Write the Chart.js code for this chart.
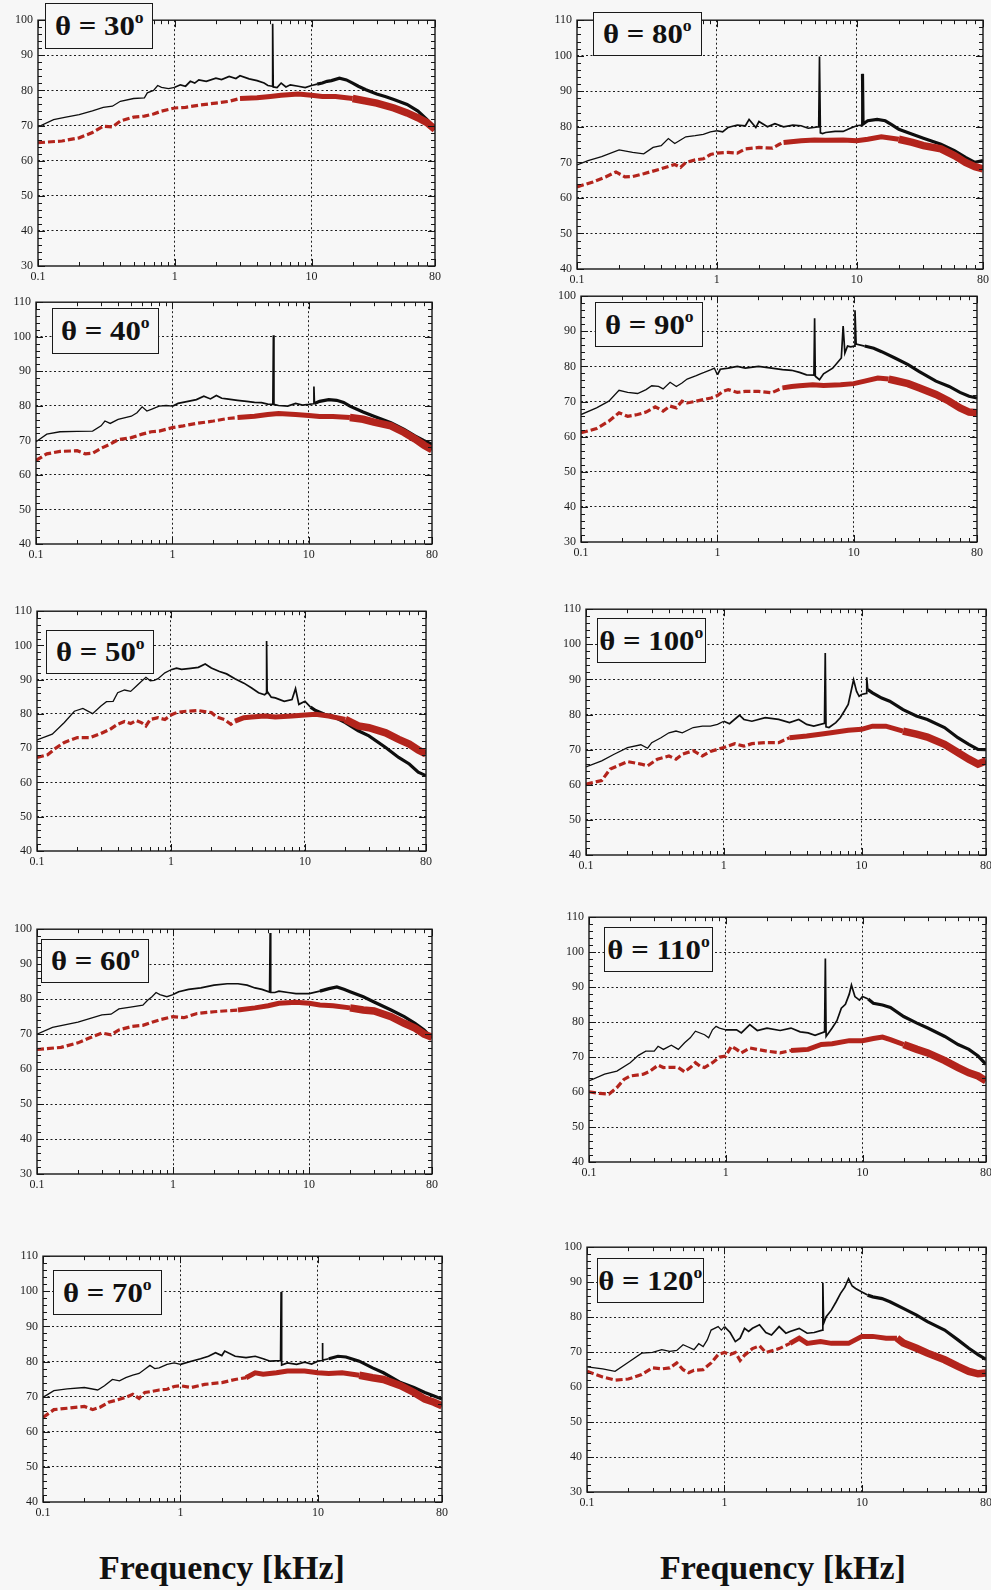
<!DOCTYPE html>
<html><head><meta charset="utf-8">
<script src="https://cdn.jsdelivr.net/npm/chart.js@4.4.1/dist/chart.umd.min.js"></script>
<style>
html,body{margin:0;padding:0;background:#f7f7f7;width:991px;height:1590px;overflow:hidden;position:relative;}
canvas{position:absolute;}
.lbl{position:absolute;border:1.6px solid #1a1a1a;background:#f7f7f7;font-family:"Liberation Serif","Times New Roman",serif;font-weight:bold;font-size:28px;color:#111;display:flex;align-items:center;justify-content:center;box-sizing:border-box;white-space:nowrap;z-index:5;}
.lbl span{display:inline-block;transform:scaleX(1.1);}
.lbl sup{font-size:16px;vertical-align:0;position:relative;top:-12px;}
.xt{position:absolute;font-family:"Liberation Serif","Times New Roman",serif;font-weight:bold;font-size:34px;color:#111;white-space:nowrap;transform:translateX(-50%);}
</style>
</head><body>
<script>
// ---------- data ----------
const angles = [30, 40, 50, 60, 70, 80, 90, 100, 110, 120];
const yMins = [30, 40, 40, 30, 40, 40, 30, 40, 40, 30];
const yMaxs = [100, 110, 110, 100, 110, 110, 100, 110, 110, 100];
const xTickVals = [0.1,0.2,0.3,0.4,0.5,0.6,0.7,0.8,0.9,1,2,3,4,5,6,7,8,9,10,20,30,40,50,60,70,80];
const xTickLabels = [0.1, 1, 10, 80];
const axisTitle = "Frequency [kHz]";

const black30 = [[0.1,69.6],[0.13,71.7],[0.16,72.4],[0.2,73.1],[0.25,74.2],[0.3,75.2],[0.35,75.5],[0.4,76.9],[0.5,77.7],[0.6,77.9],[0.63,79.3],[0.7,80],[0.75,81.4],[0.8,80.9],[0.9,80.5],[1.0,80.9],[1.1,81.6],[1.2,81.2],[1.3,82.6],[1.4,82.1],[1.5,83],[1.7,82.6],[2,83.5],[2.2,83.1],[2.5,84],[2.8,83.4],[3,84.2],[3.5,83.3],[4,82.8],[4.5,82.1],[4.8,81.4],[5.15,81.2],[5.2,99],[5.25,81],[5.6,80.8],[6,82.1],[6.5,81],[7,81.6],[8,81.2],[9,80.8],[10,81.4],[11,81.8],[12,82.1],[13,82.6],[14,82.8],[16,83.5],[18,83],[20,82.1],[22,81.2],[25,80.2],[30,79],[35,78.2],[40,77.4],[50,76],[60,74.1],[70,71.7],[80,68.9]];
const red30 = [[0.1,65.1],[0.15,65.6],[0.2,66.5],[0.25,68],[0.3,69.8],[0.35,69.6],[0.4,71.3],[0.5,72.4],[0.6,72.7],[0.7,73.3],[0.8,74.1],[1,75],[1.2,75.2],[1.5,75.8],[2,76.4],[2.5,76.9],[3,77.7],[4,77.9],[5,78.3],[6,78.6],[8,79],[10,78.6],[12,78.3],[15,78.3],[20,77.7],[30,76.4],[40,75],[50,73.6],[60,72.2],[70,70.8],[80,68.9]];

const black40 = [[0.1,69.6],[0.12,71.8],[0.15,72.5],[0.2,72.6],[0.26,72.7],[0.3,74.2],[0.32,75.6],[0.35,74.9],[0.4,76.1],[0.5,77],[0.55,78],[0.6,79.7],[0.65,78.5],[0.7,79],[0.8,79.9],[0.9,80.1],[1,79.9],[1.1,80.7],[1.3,81.3],[1.5,81.8],[1.7,82.8],[1.9,82],[2.1,83],[2.3,82.2],[2.5,82],[3,81.6],[3.5,81.3],[4,81],[4.5,80.9],[5,80.5],[5.45,80.4],[5.5,100.4],[5.55,80.4],[6,80.1],[7,79.9],[8,80.7],[9,80.2],[10,80.4],[10.8,80.6],[10.9,85.6],[11,80.7],[12,81.3],[14,81.8],[16,81.6],[18,81],[20,79.9],[25,78.2],[30,77],[40,75.1],[50,73.2],[60,71.3],[70,69.9],[80,68.9]];
const red40 = [[0.1,64.2],[0.12,66.1],[0.15,66.8],[0.2,67],[0.23,66.1],[0.26,66.3],[0.3,67.7],[0.35,68.9],[0.4,70.2],[0.5,70.8],[0.6,71.8],[0.7,72.5],[0.8,72.7],[1,73.7],[1.2,74.2],[1.5,74.9],[2,75.6],[2.5,76.3],[3,76.6],[4,77],[5,77.5],[6,77.8],[8,77.5],[10,77.2],[12,76.9],[15,76.9],[20,76.6],[25,76.1],[30,75.3],[40,74.2],[50,72.3],[60,70.4],[70,68.6],[80,67.3]];

const black50 = [[0.1,72.4],[0.13,74.1],[0.16,77.5],[0.19,80.8],[0.22,81.6],[0.26,80.1],[0.3,82.3],[0.33,83.6],[0.37,83.7],[0.4,86.2],[0.45,87],[0.5,86.6],[0.55,88.1],[0.6,89.5],[0.65,90.7],[0.7,89.7],[0.75,89.8],[0.8,90.3],[0.9,92],[1,92.9],[1.1,93.4],[1.2,93],[1.4,93.3],[1.6,93.6],[1.8,94.6],[2,93.4],[2.3,92.4],[2.6,91.7],[3,90.3],[3.5,89],[4,87.6],[4.5,86.2],[5,85.6],[5.12,86],[5.17,101.3],[5.22,86.6],[5.6,84.9],[6,84.7],[7,83.7],[8,84.2],[8.5,87.4],[9,82.8],[10,83.7],[11,82],[12,81],[14,79.9],[16,79.4],[20,77.5],[25,75.1],[30,73.6],[40,70.2],[50,67.3],[60,65.4],[70,63],[80,62]];
const red50 = [[0.1,67.3],[0.12,68.1],[0.14,70.2],[0.16,71.7],[0.2,73.1],[0.25,73.1],[0.3,74.3],[0.35,75.5],[0.4,77],[0.45,77.8],[0.5,77.2],[0.55,78.1],[0.6,77.5],[0.65,76.5],[0.7,78.4],[0.8,78.9],[0.9,78.4],[1,79.7],[1.1,80.4],[1.3,80.8],[1.6,81],[2,80.4],[2.2,79.1],[2.5,78.4],[2.8,77],[3,77.9],[3.5,78.9],[4,79.1],[5,79.4],[6,79.1],[8,79.4],[10,79.7],[12,79.9],[15,79.4],[20,78.4],[25,76.5],[30,76],[40,74.5],[50,72.6],[60,71.2],[70,69.5],[80,68.3]];

const black60 = [[0.1,70],[0.13,71.9],[0.2,73.4],[0.3,75.5],[0.35,75.7],[0.4,77.2],[0.5,77.8],[0.6,78.3],[0.65,79.7],[0.7,80.7],[0.75,81.9],[0.8,81.3],[0.9,80.7],[1,81.3],[1.1,82.1],[1.3,82.8],[1.6,83.2],[2,84],[2.5,84.4],[3,84.4],[3.5,84],[4,83.2],[4.5,82.8],[5.12,82],[5.17,98.9],[5.22,81.9],[5.6,81.9],[6,82.3],[7,81.9],[8,81.6],[10,81.6],[12,82.3],[14,83],[16,83.5],[18,82.8],[20,82.1],[25,80.7],[30,79.2],[40,76.9],[50,75],[60,73.1],[70,71.2],[80,68.9]];
const red60 = [[0.1,65.6],[0.15,66.2],[0.2,67.5],[0.25,69.1],[0.3,70.3],[0.35,69.8],[0.4,71.2],[0.5,72.2],[0.6,72.5],[0.7,73.4],[0.8,74.1],[1,75],[1.2,74.7],[1.5,75.9],[2,76.4],[3,76.9],[4,77.5],[5,78.1],[6,78.8],[8,79.1],[10,78.8],[12,78.3],[15,78.1],[20,77.5],[25,76.9],[30,76.6],[40,75],[50,73.1],[60,71.7],[70,70],[80,69.1]];

const black70 = [[0.1,69.8],[0.12,71.7],[0.15,72.2],[0.2,72.6],[0.25,71.9],[0.28,73.1],[0.32,74.9],[0.36,74.5],[0.4,75.4],[0.45,76.1],[0.5,76.6],[0.55,77.8],[0.6,78.9],[0.65,78],[0.7,78.2],[0.8,79.2],[0.9,79.6],[1,79.2],[1.2,80.1],[1.4,80.8],[1.6,81.5],[1.8,82.5],[2,81.7],[2.1,83],[2.5,81.5],[3,81.1],[3.5,81.5],[4,80.8],[4.5,80.1],[5.35,80.3],[5.4,99.8],[5.45,79],[6,79.6],[7,79.2],[8,79.8],[9,79.3],[10,80.1],[10.75,80.3],[10.8,85.3],[10.85,80.4],[12,80.8],[14,81.5],[16,81.3],[20,80.1],[25,78.2],[30,76.8],[40,74],[50,72.6],[60,71.2],[70,70.2],[80,69.3]];
const red70 = [[0.1,64.1],[0.12,66.3],[0.15,66.7],[0.2,67.2],[0.23,66.3],[0.26,67],[0.3,68.4],[0.35,69.1],[0.4,69.8],[0.45,70.7],[0.5,69.5],[0.55,71.2],[0.6,71.4],[0.7,71.9],[0.8,72.1],[0.9,72.9],[1,73.1],[1.2,72.6],[1.5,73.5],[2,74],[2.5,74.9],[3,75.4],[3.5,76.8],[4,76.4],[5,76.8],[6,77.3],[8,77.3],[10,76.8],[12,76.6],[15,76.8],[20,76.1],[25,75.4],[30,74.9],[40,73.1],[50,71.2],[60,69.3],[70,68.4],[80,67.4]];

const black80 = [[0.1,69.3],[0.12,70.5],[0.15,71.6],[0.2,73.5],[0.25,72.8],[0.3,72.4],[0.35,74.2],[0.4,74.7],[0.45,76.7],[0.5,75.3],[0.55,76.3],[0.6,77.2],[0.7,77.5],[0.8,77.9],[0.9,78.6],[1,78.9],[1.1,78.6],[1.2,79.8],[1.4,80.5],[1.6,80.3],[1.7,82.1],[1.9,79.8],[2,81.5],[2.3,80],[2.6,80.9],[3,80],[3.5,80.5],[4,80.3],[4.5,79.6],[5.35,80],[5.42,99.8],[5.5,78.3],[5.7,78.1],[6,78.4],[7,78.7],[8,78.7],[9,79.6],[10,80.3],[10.9,80.5],[11,94.9],[11.1,80.8],[12,81.7],[14,82.1],[16,81.7],[18,80.5],[20,79.3],[25,77.9],[30,76.8],[40,75.1],[50,73.3],[60,71.4],[70,70],[80,70.5]];
const red80 = [[0.1,63.1],[0.13,64.5],[0.16,65.9],[0.19,67.3],[0.22,65.9],[0.25,66],[0.3,66.8],[0.4,68.2],[0.5,69.4],[0.55,68.6],[0.6,70],[0.7,70.7],[0.8,71],[0.9,72.2],[1,72.6],[1.2,72.8],[1.4,72.6],[1.6,73.8],[2,74.2],[2.5,74],[2.8,75.1],[3,75.6],[4,76.1],[5,76.3],[6,76.2],[8,76.3],[10,76.1],[12,76.5],[15,77.2],[20,76.5],[25,75.6],[30,74.7],[40,73.8],[50,71.9],[60,70],[70,68.8],[80,68.2]];

const black90 = [[0.1,66.3],[0.13,68.2],[0.16,70.1],[0.19,73.2],[0.22,72.6],[0.26,72.3],[0.3,73.4],[0.33,74.5],[0.37,74.3],[0.4,73.6],[0.45,75.5],[0.5,74.3],[0.55,75.3],[0.6,76.4],[0.7,77.4],[0.75,77.9],[0.8,78.3],[0.9,79.1],[0.95,79.5],[1,77.6],[1.05,79.2],[1.2,79.5],[1.4,80],[1.6,79.5],[2,80],[2.5,79.5],[3,79.1],[3.5,78.9],[4,78.3],[4.5,77.6],[5.1,77.5],[5.16,93.7],[5.22,77.2],[5.6,76.2],[6,77.9],[7,79.5],[8.1,82.4],[8.35,91.5],[8.6,83.8],[9,85.8],[9.5,85.6],[10.05,85.8],[10.2,96],[10.4,86.4],[12,85.8],[14,85.2],[16,84.2],[20,82.4],[25,80.5],[30,78.6],[40,75.8],[50,74.3],[60,72.6],[70,71.5],[80,71]];
const red90 = [[0.1,61.1],[0.13,62.3],[0.16,64.4],[0.19,66.8],[0.22,65.8],[0.26,66.3],[0.3,67],[0.35,68.5],[0.4,67.3],[0.45,68.7],[0.5,68.2],[0.55,70.1],[0.6,69.6],[0.7,70.1],[0.8,70.6],[0.9,71],[1,71.7],[1.1,72.9],[1.2,73.4],[1.4,72.6],[1.6,72.9],[2,72.9],[2.5,72.5],[3,73.9],[3.5,74.3],[4,74.5],[5,74.8],[6,74.6],[8,74.8],[10,75.1],[12,75.8],[15,76.7],[18,76.4],[20,76],[25,75.1],[30,73.9],[40,72],[50,70.1],[60,68.2],[70,67],[80,66.8]];

const black100 = [[0.1,65.1],[0.13,66.8],[0.16,68.7],[0.2,70.6],[0.25,71.4],[0.28,70.4],[0.3,72],[0.35,73.4],[0.4,74.8],[0.45,75.3],[0.5,74.8],[0.6,76.3],[0.7,76.7],[0.8,76.7],[0.9,77.2],[1,78.1],[1.1,77.4],[1.3,79.8],[1.4,78.6],[1.6,78.1],[2,79.1],[2.5,78.6],[3,77.7],[3.5,78.6],[4,77.2],[4.5,76.7],[5.38,77.5],[5.45,97.5],[5.52,76.5],[5.8,76.3],[6.5,77.7],[7,79.1],[7.5,81],[8,82.9],[8.75,89.9],[9.2,86.6],[9.6,85.2],[10,85.7],[10.8,86],[10.9,90.6],[11.1,87.1],[12,86.2],[14,84.7],[16,83.8],[20,81.4],[25,79.6],[30,78.6],[40,76.3],[50,73.4],[60,71.5],[70,70.1],[80,70]];
const red100 = [[0.1,60.2],[0.13,61.2],[0.15,64.5],[0.2,66.6],[0.25,65.9],[0.28,65.4],[0.33,67.3],[0.4,68.2],[0.45,67.3],[0.5,68.7],[0.6,69.7],[0.7,68.2],[0.8,69.5],[1,70.6],[1.2,71.7],[1.4,71],[1.6,71.7],[2,72],[2.5,72],[3,73.4],[4,73.9],[5,74.4],[6,74.8],[8,75.5],[10,75.8],[12,76.7],[15,76.7],[20,75.3],[25,74.4],[30,73.6],[40,71.5],[50,69.2],[60,67.3],[70,65.9],[80,66.8]];

const black110 = [[0.1,63.2],[0.13,65.1],[0.16,66],[0.2,68.4],[0.23,70.5],[0.26,71.7],[0.3,71.7],[0.32,73.1],[0.35,72.2],[0.4,73.4],[0.45,72.2],[0.5,74.1],[0.55,75.5],[0.6,77.4],[0.7,76.4],[0.75,75.5],[0.8,77.8],[0.85,78.8],[0.9,78.3],[1,77.8],[1.2,77.8],[1.3,76.9],[1.5,79.3],[1.7,77.6],[2,78.3],[2.5,77.6],[3,78.3],[3.5,77.2],[4,76.9],[4.5,76.2],[5.28,77.2],[5.35,98.2],[5.42,75.9],[6,78.3],[6.5,80.4],[7,84],[7.5,85.1],[8,88],[8.3,90.6],[8.8,87.3],[9.5,86.3],[10,87.3],[11,86.6],[12,85.4],[14,84.9],[16,84.2],[20,81.6],[25,79.7],[30,78.3],[40,75.9],[50,73.6],[60,72.2],[70,70.3],[80,67.9]];
const red110 = [[0.1,60.1],[0.12,59.6],[0.14,59.4],[0.16,61.3],[0.18,63.6],[0.2,64.6],[0.25,65.1],[0.28,66],[0.32,67.7],[0.35,67],[0.4,67.1],[0.45,67],[0.5,65.8],[0.55,67],[0.6,68.4],[0.65,67.4],[0.7,67],[0.8,68.4],[0.9,70],[1,70.3],[1.1,73.1],[1.2,72.2],[1.3,71.2],[1.5,72.6],[2,71.7],[2.5,71.2],[3,71.9],[4,72.2],[5,73.6],[6,73.8],[8,74.7],[10,74.7],[12,75.3],[14,75.7],[16,75],[20,73.6],[25,72.2],[30,71.2],[40,69],[50,67],[60,65.5],[70,64.6],[80,63.2]];

const black120 = [[0.1,65.8],[0.13,65.2],[0.16,64.5],[0.2,67.1],[0.25,69.7],[0.3,69.9],[0.35,70.7],[0.4,70.2],[0.45,70.5],[0.5,72.1],[0.55,71.4],[0.6,70.7],[0.65,72.4],[0.7,71.6],[0.75,73.5],[0.8,76.3],[0.9,77.3],[0.95,76.3],[1,77.3],[1.1,75.6],[1.2,73],[1.3,74],[1.4,76.8],[1.5,75.9],[1.6,76.8],[1.8,77.8],[2,75.6],[2.2,74.9],[2.5,77.3],[2.8,75.4],[3,75.9],[3.5,76.8],[4,75.4],[4.5,75.6],[5.15,76.3],[5.2,89.8],[5.27,78.2],[5.5,80.1],[6,82],[6.5,84.4],[7,86.8],[7.5,88.5],[8,91],[8.5,88.9],[9,88.2],[10,87.2],[11,86.3],[12,85.8],[14,85.3],[16,84.4],[20,82.5],[25,80.6],[30,78.7],[40,76.3],[50,73.5],[60,71.1],[70,69.3],[80,67.9]];
const red120 = [[0.1,64.5],[0.13,62.9],[0.16,62],[0.2,62.3],[0.25,63.6],[0.3,65.5],[0.35,65.2],[0.4,65.5],[0.45,66.9],[0.5,65],[0.55,64.1],[0.6,64.8],[0.7,65],[0.8,66.9],[0.9,69.3],[1,69.9],[1.1,69.3],[1.2,69.9],[1.3,67.6],[1.4,69.1],[1.6,71],[1.8,71.8],[2,69.9],[2.5,71],[3,72.5],[3.5,74],[4,72.5],[5,73],[6,72.5],[8,72.5],[10,74.5],[12,74.5],[15,74],[18,74],[20,72.6],[25,71.1],[30,69.7],[40,67.8],[50,65.9],[60,64.5],[70,63.8],[80,64]];

const blacks = [black30, black40, black50, black60, black70, black80, black90, black100, black110, black120];
const reds = [red30, red40, red50, red60, red70, red80, red90, red100, red110, red120];

// ---------- layout (page pixels of each plot area, and of each label box) ----------
const layout = [
  {L:38, T:18, R:435, B:266, box:[45,3,153,49]},
  {L:36, T:300, R:432, B:544, box:[52,308,159,354]},
  {L:37, T:609, R:426, B:851, box:[46,630,154,674]},
  {L:37, T:927, R:432, B:1174, box:[41,939,149,983]},
  {L:43, T:1254, R:442, B:1502, box:[53,1270,162,1315]},
  {L:577, T:18, R:983, B:269, box:[593,12,702,56]},
  {L:581, T:294, R:977, B:542, box:[595,302,703,347]},
  {L:586, T:607, R:986, B:855, box:[597,618,706,663]},
  {L:589, T:915, R:986, B:1162, box:[604,927,713,972]},
  {L:587, T:1245, R:986, B:1492, box:[597,1258,704,1303]}
];
const titlePos = [[222,1549],[783,1549]];

const RED = '#b3241c';
const BLACK = '#0e0e0e';
const GRID = '#1e1e1e';
const PADL = 40, PADT = 10, PADR = 14, PADB = 24;

const framePlugin = {
  id: 'frame',
  afterDraw(chart) {
    const {ctx, chartArea: a, scales: {x, y}} = chart;
    ctx.save();
    ctx.strokeStyle = '#161616';
    ctx.lineWidth = 1.4;
    ctx.strokeRect(a.left, a.top, a.right - a.left, a.bottom - a.top);
    ctx.lineWidth = 1;
    ctx.beginPath();
    xTickVals.forEach(v => {
      const px = Math.round(x.getPixelForValue(v)) + 0.5;
      const len = xTickLabels.includes(v) ? 7 : 4;
      ctx.moveTo(px, a.bottom); ctx.lineTo(px, a.bottom - len);
      ctx.moveTo(px, a.top); ctx.lineTo(px, a.top + len);
    });
    for (let v = y.min; v <= y.max + 0.001; v += 2) {
      const py = Math.round(y.getPixelForValue(v)) + 0.5;
      const len = (Math.round(v) % 10 === 0) ? 7 : 4;
      ctx.moveTo(a.left, py); ctx.lineTo(a.left + len, py);
      ctx.moveTo(a.right, py); ctx.lineTo(a.right - len, py);
    }
    ctx.stroke();
    ctx.restore();
  }
};

function toXY(arr) { return arr.map(p => ({x: p[0], y: p[1]})); }

angles.forEach((ang, i) => {
  const g = layout[i];
  const W = g.R - g.L + PADL + PADR, H = g.B - g.T + PADT + PADB;
  const cv = document.createElement('canvas');
  cv.width = W; cv.height = H;
  cv.style.left = (g.L - PADL) + 'px'; cv.style.top = (g.T - PADT) + 'px';
  cv.style.width = W + 'px'; cv.style.height = H + 'px';
  document.body.appendChild(cv);
  const yMin = yMins[i], yMax = yMaxs[i];
  new Chart(cv, {
    type: 'line',
    data: {
      datasets: [
        {
          label: 'red', data: toXY(reds[i]), borderColor: RED, order: 0,
          borderWidth: 3.2, pointRadius: 0, tension: 0, borderCapStyle: 'butt',
          segment: {
            borderDash: c => c.p0.parsed.x < 3 ? [7, 3] : [],
            borderWidth: c => c.p0.parsed.x < 3 ? 3.2 : (c.p0.parsed.x < 18 ? 5 : 7.5)
          }
        },
        {
          label: 'black', data: toXY(blacks[i]), borderColor: BLACK, order: 1,
          borderWidth: 1.2, pointRadius: 0, tension: 0, borderJoinStyle: 'miter',
          segment: {
            borderWidth: c => c.p0.parsed.x < 1 ? 1.3 : (c.p0.parsed.x < 11 ? 1.7 : 3.2)
          }
        }
      ]
    },
    options: {
      responsive: false, animation: false, events: [],
      layout: {padding: {left: 0, top: PADT, right: PADR, bottom: 0}},
      plugins: {legend: {display: false}, tooltip: {enabled: false}},
      scales: {
        x: {
          type: 'logarithmic', min: 0.1, max: 80,
          afterBuildTicks: s => { s.ticks = xTickVals.map(v => ({value: v})); },
          afterFit: s => { s.height = PADB; },
          ticks: {
            autoSkip: false, maxRotation: 0, minRotation: 0, padding: 4, color: '#1c1c1c',
            font: {family: '"Liberation Serif", serif', size: 12},
            callback: v => xTickLabels.includes(v) ? String(v) : ''
          },
          grid: {
            drawTicks: false, lineWidth: 1,
            color: c => (c.tick && (c.tick.value === 1 || c.tick.value === 10)) ? GRID : 'rgba(0,0,0,0)'
          },
          border: {display: false, dash: [2, 2.5]}
        },
        y: {
          min: yMin, max: yMax,
          afterFit: s => { s.width = PADL; },
          ticks: {
            stepSize: 10, padding: 5, color: '#1c1c1c',
            font: {family: '"Liberation Serif", serif', size: 12}
          },
          grid: {
            drawTicks: false, lineWidth: 1,
            color: c => (c.tick && c.tick.value > yMin && c.tick.value < yMax) ? GRID : 'rgba(0,0,0,0)'
          },
          border: {display: false, dash: [2, 2.5]}
        }
      }
    },
    plugins: [framePlugin]
  });
  const b = g.box;
  const d = document.createElement('div');
  d.className = 'lbl';
  d.style.left = b[0] + 'px'; d.style.top = b[1] + 'px';
  d.style.width = (b[2] - b[0]) + 'px'; d.style.height = (b[3] - b[1]) + 'px';
  d.innerHTML = '<span>\u03B8 = ' + ang + '<sup>o</sup></span>';
  document.body.appendChild(d);
});

titlePos.forEach(p => {
  const t = document.createElement('div');
  t.className = 'xt';
  t.style.left = p[0] + 'px'; t.style.top = p[1] + 'px';
  t.textContent = axisTitle;
  document.body.appendChild(t);
});
</script>
</body></html>
